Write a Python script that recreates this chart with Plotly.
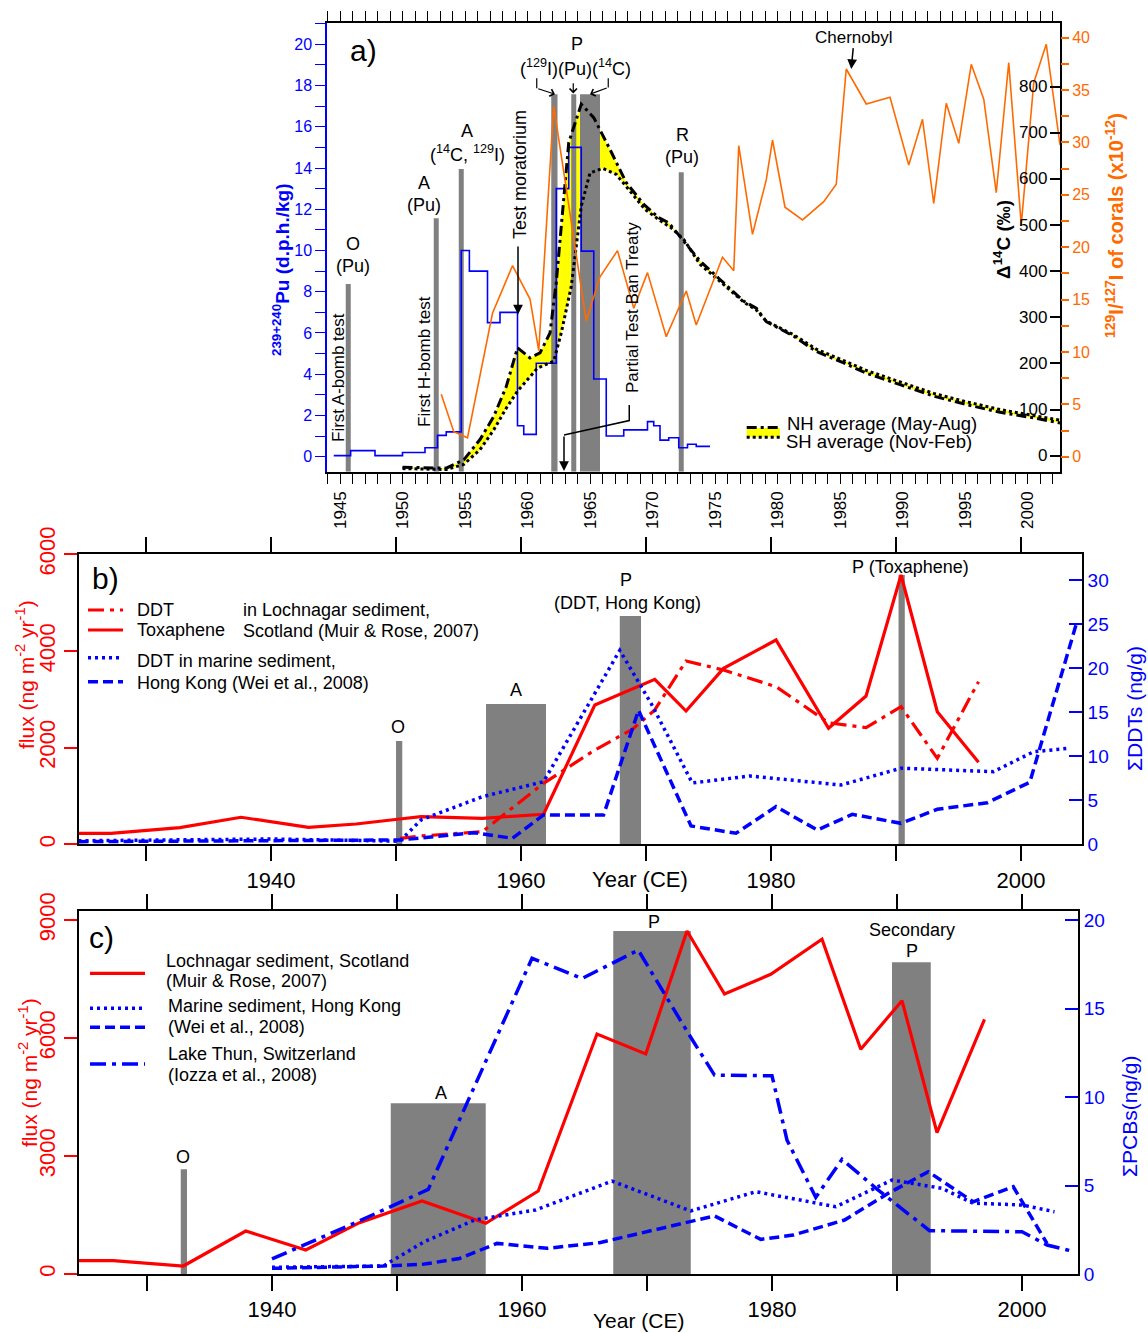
import plotly.graph_objects as go

W, H = 1148, 1333
FONT = "Liberation Sans, Arial, sans-serif"
RED = "#ff0000"
BLUE = "#0000ff"
ORANGE = "#ff6a00"
GRAY = "#808080"

# ---------------- Panel a data ----------------
pu_year = [1944.5, 1945.85, 1947.8, 1950.0, 1951.8, 1952.8, 1953.5, 1954.7, 1955.35, 1956.8,
           1957.8, 1959.2, 1959.7, 1960.7, 1962.3, 1963.3, 1964.3, 1965.3, 1966.3, 1967.7,
           1969.6, 1970.1, 1970.6, 1971.3, 1972.1, 1972.8, 1973.5, 1974.6]
pu_val = [0.05, 0.29, 0.05, 0.2, 0.43, 1.03, 1.2, 10.0, 9.0, 6.5,
          7.0, 1.5, 1.08, 4.53, 13.0, 15.0, 9.97, 3.77, 1.0, 1.3,
          1.7, 1.5, 0.8, 0.92, 0.43, 0.6, 0.5, 0.5]

i_year = [1953.1, 1954.1, 1955.2, 1957.2, 1958.8, 1960.2, 1960.9, 1962.1, 1964.7, 1965.8,
          1967.2, 1968.5, 1969.6, 1971.1, 1972.7, 1973.5, 1975.6, 1976.5, 1976.9, 1978.0,
          1979.1, 1979.6, 1980.6, 1982.0, 1983.7, 1984.7, 1985.5, 1987.1, 1989.0, 1990.5,
          1991.6, 1992.5, 1993.5, 1994.5, 1995.5, 1996.5, 1997.5, 1998.5, 1999.5, 2000.5,
          2001.5, 2002.6]
i_val = [5.96, 2.39, 1.81, 13.69, 18.23, 15.05, 10.12, 33.48, 12.95, 17.18,
         19.67, 14.17, 17.57, 11.46, 15.82, 12.57, 19.04, 17.76, 29.69, 21.23,
         26.42, 30.23, 23.81, 22.6, 24.34, 26.0, 37.01, 33.67, 34.31, 27.85,
         32.21, 24.19, 33.74, 29.92, 37.46, 34.12, 25.2, 37.61, 22.12, 35.7,
         39.37, 29.76]

nh_year = [1950.0, 1953.5, 1954.9, 1956.2, 1957.3, 1958.3, 1959.2, 1960.2, 1961.0, 1961.8,
           1962.3, 1963.3, 1964.3, 1965.3, 1966.6, 1967.9, 1969.3, 1970.5, 1971.3, 1972.2,
           1973.8, 1975.4, 1977.3, 1978.3, 1979.1, 1981.3, 1983.1, 1985.3, 1987.1, 1989.8,
           1992.5, 1995.1, 1997.8, 2000.5, 2002.6]
nh_val = [-25, -27, -9, 35, 85, 150, 234, 212, 223, 266,
          375, 679, 762, 733, 664, 592, 545, 516, 505, 476,
          422, 382, 335, 320, 291, 259, 226, 201, 179, 154,
          129, 111, 94, 82, 71]

sh_year = [1950.0, 1953.5, 1954.9, 1956.2, 1957.3, 1958.3, 1959.2, 1960.0, 1960.8, 1962.1,
           1962.7, 1963.5, 1964.3, 1965.0, 1966.0, 1967.1, 1968.1, 1969.4, 1970.7, 1971.5,
           1972.5, 1973.8, 1975.4, 1977.3, 1978.3, 1979.1, 1981.3, 1983.1, 1985.3, 1987.1,
           1989.8, 1992.5, 1995.1, 1997.8, 2000.5, 2002.6]
sh_val = [-28, -30, -19, 13, 56, 103, 140, 165, 190, 205,
          266, 367, 541, 613, 623, 610, 577, 534, 508, 494,
          469, 415, 378, 333, 316, 292, 262, 231, 206, 185,
          160, 135, 117, 100, 87, 77]

c14_ticks = [0, 100, 200, 300, 400, 500, 600, 700, 800]

a_bar_start = [1945.46, 1952.5, 1954.5, 1961.9, 1963.5, 1964.2, 1972.1]
a_bar_end = [1945.86, 1952.9, 1954.9, 1962.4, 1963.9, 1965.8, 1972.5]
a_bar_top = [8.38, 11.56, 13.95, 17.58, 17.58, 17.58, 13.79]

# ---------------- Panel b data ----------------
tox_year = [1924.6, 1927.2, 1932.7, 1937.6, 1943.0, 1946.8, 1950.3, 1952.0, 1956.9, 1961.8,
            1965.9, 1970.7, 1973.2, 1976.2, 1980.4, 1984.6, 1987.6, 1990.4, 1993.3, 1996.6]
tox_flux = [227, 227, 344, 559, 352, 420, 523, 571, 538, 621,
            2880, 3414, 2758, 3641, 4227, 2400, 3068, 5572, 2744, 1697]

ddt_year = [1950.3, 1952.0, 1956.9, 1961.8, 1965.9, 1968.9, 1970.7, 1973.2, 1976.2, 1980.4,
            1984.6, 1987.6, 1990.4, 1993.3, 1996.6]
ddt_flux = [124, 172, 261, 1262, 1950, 2379, 2779, 3793, 3606, 3261,
            2516, 2413, 2847, 1779, 3364]

hk_dot_year = [1924.6, 1930.0, 1940.0, 1950.3, 1952.0, 1956.9, 1961.8, 1967.9, 1970.4, 1973.7,
               1978.3, 1985.6, 1990.4, 1997.8, 2001.0, 2003.9]
hk_dot_ddt = [0.4, 0.45, 0.6, 0.35, 2.76, 5.4, 7.1, 22.0, 16.0, 6.96,
              7.75, 6.73, 8.63, 8.24, 10.5, 10.9]

hk_dash_year = [1924.6, 1940.0, 1950.3, 1956.3, 1959.3, 1961.8, 1966.6, 1969.4, 1973.6, 1977.2,
                1980.4, 1983.7, 1986.5, 1990.4, 1993.3, 1997.3, 2000.7, 2004.4]
hk_dash_ddt = [0.3, 0.4, 0.49, 1.32, 0.68, 3.33, 3.33, 15.2, 2.08, 1.25,
               4.27, 1.62, 3.4, 2.38, 3.97, 4.72, 7.04, 24.9]

b_bar_start = [1950.0, 1957.2, 1967.9, 1990.2]
b_bar_end = [1950.5, 1962.0, 1969.6, 1990.7]
b_bar_top = [2137, 2903, 4724, 5572]

# ---------------- Panel c data ----------------
loch_year = [1924.5, 1927.3, 1932.9, 1937.9, 1942.7, 1947.0, 1952.0, 1957.1, 1961.3, 1966.0,
             1969.9, 1973.2, 1976.2, 1979.9, 1984.0, 1987.1, 1990.4, 1993.2, 1997.0]
loch_flux = [339, 339, 203, 1093, 610, 1305, 1856, 1289, 2110, 6102,
             5594, 8721, 7119, 7620, 8510, 5713, 6949, 3593, 6476]

pcb_dot_year = [1940.0, 1948.9, 1952.2, 1956.2, 1961.1, 1967.2, 1973.5, 1978.7, 1985.1, 1989.6,
                1993.6, 1996.1, 2000.0, 2002.6]
pcb_dot = [0.38, 0.45, 1.83, 3.05, 3.62, 5.25, 3.56, 4.65, 3.8, 5.31,
           4.84, 4.0, 3.9, 3.52]

pcb_dash_year = [1940.0, 1948.9, 1952.2, 1955.0, 1958.0, 1962.0, 1966.2, 1975.4, 1979.1, 1981.7,
                 1985.8, 1989.3, 1992.5, 1996.1, 1999.3, 2002.0]
pcb_dash = [0.32, 0.45, 0.56, 0.88, 1.73, 1.45, 1.77, 3.28, 1.96, 2.2,
            3.05, 4.56, 5.78, 4.08, 4.93, 1.73]

thun_year = [1940.0, 1947.0, 1952.5, 1960.8, 1964.8, 1969.3, 1973.3, 1975.4, 1980.0, 1981.2,
             1983.5, 1985.6, 1988.4, 1992.6, 2000.0, 2002.0, 2004.2]
thun_pcb = [0.85, 3.0, 4.78, 17.84, 16.7, 18.3, 13.6, 11.24, 11.2, 7.57,
            4.33, 6.48, 4.8, 2.45, 2.39, 1.64, 1.26]

c_bar_start = [1932.7, 1949.5, 1967.3, 1989.6]
c_bar_end = [1933.2, 1957.1, 1973.5, 1992.7]
c_bar_top = [2662, 4340, 8721, 7925]

# ---------------- layout geometry ----------------
def PX(x):
    return x / W

def PY(y):
    return 1 - y / H

PU_RANGE = [-0.73, 21.02]
C14_RANGE = [-34.7, 937.5]
I_RANGE = [-1.43, 41.37]

fig = go.Figure()

def bars(starts, ends, tops, base, xa, ya):
    fig.add_trace(go.Bar(
        x=[(s + e) / 2 for s, e in zip(starts, ends)],
        width=[e - s for s, e in zip(starts, ends)],
        base=[base] * len(starts),
        y=[t - base for t in tops],
        marker=dict(color=GRAY, line=dict(width=0)),
        xaxis=xa, yaxis=ya, showlegend=False, hoverinfo="skip"))

def line(x, y, xa, ya, color, width, dash="solid", shape="linear"):
    fig.add_trace(go.Scatter(x=x, y=y, mode="lines",
                             line=dict(color=color, width=width, dash=dash, shape=shape),
                             xaxis=xa, yaxis=ya, showlegend=False, hoverinfo="skip"))

# Panel a traces (layer order: fill < bars/Pu < black lines < orange)
fig.add_trace(go.Scatter(x=sh_year, y=sh_val, mode="lines", line=dict(width=0, color="rgba(0,0,0,0)"),
                         xaxis="x", yaxis="y", showlegend=False, hoverinfo="skip"))
fig.add_trace(go.Scatter(x=nh_year, y=nh_val, mode="lines", line=dict(width=0, color="rgba(0,0,0,0)"),
                         fill="tonexty", fillcolor="#ffff00",
                         xaxis="x", yaxis="y", showlegend=False, hoverinfo="skip"))
bars(a_bar_start, a_bar_end, a_bar_top, PU_RANGE[0], "x", "y2")
line(pu_year, pu_val, "x", "y2", BLUE, 1.6, shape="hv")
line(nh_year, nh_val, "x", "y3", "black", 3, dash="10px,4px,3px,4px")
line(sh_year, sh_val, "x", "y3", "black", 3, dash="3px,3px")
line(i_year, i_val, "x", "y4", ORANGE, 1.6)

# Panel b traces
bars(b_bar_start, b_bar_end, b_bar_top, 0, "x2", "y5")
line(tox_year, tox_flux, "x2", "y5", RED, 3.2)
line(ddt_year, ddt_flux, "x2", "y5", RED, 3.2, dash="16px,6px,4px,6px")
line(hk_dot_year, hk_dot_ddt, "x2", "y6", BLUE, 3.5, dash="3px,4px")
line(hk_dash_year, hk_dash_ddt, "x2", "y6", BLUE, 3.5, dash="10px,5px")

# Panel c traces
bars(c_bar_start, c_bar_end, c_bar_top, 0, "x3", "y7")
line(loch_year, loch_flux, "x3", "y7", RED, 3.2)
line(pcb_dot_year, pcb_dot, "x3", "y8", BLUE, 3.5, dash="3px,4px")
line(pcb_dash_year, pcb_dash, "x3", "y8", BLUE, 3.5, dash="10px,5px")
line(thun_year, thun_pcb, "x3", "y8", BLUE, 3.5, dash="16px,6px,4px,6px")

# ---------------- axes ----------------
common = dict(showgrid=False, zeroline=False, automargin=False)

xa = dict(common, domain=[PX(327), PX(1060)], range=[1943.96, 2002.6], anchor="y",
          tickmode="linear", tick0=1945, dtick=5, tickangle=-90,
          ticks="outside", ticklen=11, tickwidth=1, tickcolor="black",
          minor=dict(tick0=1944, dtick=1, ticks="outside", ticklen=11, tickwidth=1, tickcolor="black"),
          showline=True, linecolor="black", linewidth=1.5, mirror="ticks",
          tickfont=dict(size=17, color="black", family=FONT))
ya = dict(common, domain=[PY(471.7), PY(23.3)], range=C14_RANGE, anchor="x", side="right",
          tickmode="array", tickvals=c14_ticks, showticklabels=False,
          ticks="inside", ticklen=10, tickwidth=1.5, tickcolor="black",
          showline=True, linecolor="black", linewidth=1.5)
ya2 = dict(common, range=PU_RANGE, anchor="x", overlaying="y", side="left",
           tickmode="array", tickvals=list(range(0, 21, 2)),
           ticks="outside", ticklen=10, tickwidth=1, tickcolor=BLUE,
           minor=dict(dtick=1, ticks="outside", ticklen=10, tickwidth=1, tickcolor=BLUE),
           showline=True, linecolor=BLUE, linewidth=1.5,
           tickfont=dict(size=16, color=BLUE, family=FONT))
ya3 = dict(common, range=C14_RANGE, anchor="x", overlaying="y", visible=False)
ya4 = dict(common, range=I_RANGE, anchor="x", overlaying="y", side="right",
           tickmode="array", tickvals=list(range(0, 41, 5)),
           ticks="outside", ticklen=8, tickwidth=1.5, tickcolor=ORANGE,
           minor=dict(tick0=2.5, dtick=5, ticks="outside", ticklen=8, tickwidth=1.5, tickcolor=ORANGE),
           showline=False, tickfont=dict(size=16, color=ORANGE, family=FONT))

def decade_axis(dom, rng, anchor):
    vals = list(range(1930, 2001, 10))
    return dict(common, domain=dom, range=rng, anchor=anchor,
                tickmode="array", tickvals=vals,
                ticktext=[str(v) if v % 20 == 0 else "" for v in vals],
                ticks="outside", ticklen=15, tickwidth=1.5, tickcolor="black",
                showline=True, linecolor="black", linewidth=2, mirror="ticks",
                tickfont=dict(size=22, color="black", family=FONT))

xa2 = decade_axis([PX(78.5), PX(1081.8)], [1924.6, 2004.86], "y5")
xa3 = decade_axis([PX(78.5), PX(1078)], [1924.52, 2004.48], "y7")

def flux_axis(dom, rng, vals, anchor):
    return dict(common, domain=dom, range=rng, anchor=anchor, side="left",
                tickmode="array", tickvals=vals, tickangle=-90,
                ticks="outside", ticklen=13, tickwidth=1.5, tickcolor=RED,
                showline=True, linecolor="black", linewidth=2,
                tickfont=dict(size=22, color=RED, family=FONT))

def conc_axis(rng, vals, anchor, over):
    return dict(common, range=rng, anchor=anchor, overlaying=over, side="right",
                tickmode="array", tickvals=vals,
                ticks="inside", ticklen=13, tickwidth=2, tickcolor=BLUE,
                showline=True, linecolor="black", linewidth=2,
                tickfont=dict(size=19, color=BLUE, family=FONT))

ya5 = flux_axis([PY(844.3), PY(554.3)], [0, 6000], [0, 2000, 4000, 6000], "x2")
ya6 = conc_axis([0, 32.9], list(range(0, 31, 5)), "x2", "y5")
ya7 = flux_axis([PY(1274), PY(910.7)], [0, 9237], [0, 3000, 6000, 9000], "x3")
ya8 = conc_axis([0, 20.53], list(range(0, 21, 5)), "x3", "y7")

# ---------------- annotations & shapes ----------------
ann = []
shapes = []

def txt(x, y, s, size=18, color="black", angle=0, xanchor="center", yanchor="middle"):
    ann.append(dict(x=PX(x), y=PY(y), xref="paper", yref="paper", text=s, showarrow=False,
                    textangle=angle, xanchor=xanchor, yanchor=yanchor,
                    font=dict(size=size, color=color, family=FONT)))

def arrow(x, y, ax, ay, head=2, size=1.3, width=1.5, yref="y2"):
    ann.append(dict(x=x, y=y, ax=ax, ay=ay, xref="x", yref=yref, axref="x", ayref=yref,
                    text="", showarrow=True, arrowhead=head, arrowsize=size,
                    arrowwidth=width, arrowcolor="black", standoff=0))

def seg(pts, xref="x", yref="y2", width=1.5):
    p = "M " + " L ".join(f"{a},{b}" for a, b in pts)
    shapes.append(dict(type="path", path=p, xref=xref, yref=yref,
                       line=dict(color="black", width=width)))

def legline(x0, x1, y, color, width, dash):
    shapes.append(dict(type="line", xref="paper", yref="paper", x0=PX(x0), x1=PX(x1),
                       y0=PY(y), y1=PY(y), line=dict(color=color, width=width, dash=dash)))

# Δ14C tick labels (drawn inside the plot, left of the right axis)
for v in c14_ticks:
    ann.append(dict(x=PX(1049), y=v, xref="paper", yref="y", text=str(v), showarrow=False,
                    xanchor="right", yanchor="middle",
                    font=dict(size=17, color="black", family=FONT)))

# panel a labels
txt(363, 50, "a)", size=30)
txt(353, 244, "O", 18); txt(353, 266, "(Pu)", 18)
txt(424, 183, "A", 18); txt(424, 205, "(Pu)", 18)
txt(467, 131, "A", 18); txt(467, 153, "(<sup>14</sup>C, <sup>129</sup>I)", 18)
txt(577, 44, "P", 18); txt(575, 67, "(<sup>129</sup>I)(Pu)(<sup>14</sup>C)", 18)
txt(682, 135, "R", 18); txt(682, 157, "(Pu)", 18)
txt(520, 175, "Test moratorium", 18, angle=-90)
txt(338, 378, "First A-bomb test", 17, angle=-90)
txt(424, 362, "First H-bomb test", 17, angle=-90)
txt(632, 308, "Partial Test Ban Treaty", 17, angle=-90)

# arrows in panel a (data coordinates on the Pu axis)
arrow(1959.24, 6.9, 1959.24, 10.27)
ann.append(dict(x=1985.9, y=18.8, xref="x", yref="y2", ax=3, ay=-32, text="Chernobyl",
                showarrow=True, arrowhead=2, arrowsize=1.3, arrowwidth=1.5, arrowcolor="black",
                font=dict(size=17, color="black", family=FONT)))
seg([(1960.74, 18.35), (1960.74, 17.87)], width=1.2)
arrow(1962.2, 17.58, 1960.74, 17.87, head=4, size=1.2, width=1.2)
arrow(1963.66, 17.62, 1963.66, 18.19, head=4, size=1.2, width=1.2)
seg([(1966.46, 18.35), (1966.46, 17.91)], width=1.2)
arrow(1965.0, 17.58, 1966.46, 17.91, head=4, size=1.2, width=1.2)
seg([(1968.14, 2.51), (1968.14, 1.75), (1962.92, 1.05)], width=1.5)
arrow(1962.92, -0.7, 1962.92, 1.05)

# panel a legend
shapes.append(dict(type="rect", xref="paper", yref="paper", x0=PX(746.7), x1=PX(780),
                   y0=PY(437), y1=PY(428), fillcolor="#ffff00", line=dict(width=0)))
legline(746.7, 780, 427.5, "black", 3, "10px,4px,3px,4px")
legline(746.7, 780, 437.3, "black", 3, "3px,3px")
txt(785, 424, "NH average (May-Aug)", 18.5, xanchor="left")
txt(784, 442, "SH average (Nov-Feb)", 18.5, xanchor="left")

# panel a axis titles
txt(281, 270, "<b><sup>239+240</sup>Pu (d.p.h./kg)</b>", 19, BLUE, angle=-90)
txt(1002, 240, "<b>Δ<sup>14</sup>C (‰)</b>", 19, "black", angle=-90)
txt(1114, 226, "<b><sup>129</sup>I/<sup>127</sup>I of corals (x10<sup>-12</sup>)</b>", 20, ORANGE, angle=-90)

# panel b labels
txt(105, 578, "b)", size=30)
txt(398, 727, "O", 18)
txt(516, 690, "A", 18)
txt(626, 580, "P", 18)
txt(627, 603, "(DDT, Hong Kong)", 18)
txt(910, 567, "P (Toxaphene)", 18)
txt(640, 879, "Year (CE)", 22)
txt(25, 675, "flux (ng m<sup>-2</sup> yr<sup>-1</sup>)", 21, RED, angle=-90)
txt(1134, 709, "ΣDDTs (ng/g)", 21, BLUE, angle=-90)
legline(88, 123, 610, RED, 3.2, "16px,6px,4px,6px")
legline(88, 123, 630, RED, 3.2, "solid")
legline(88, 123, 657.7, BLUE, 3.5, "3px,4px")
legline(88, 123, 681.7, BLUE, 3.5, "10px,5px")
txt(134.7, 610, "DDT", 18, xanchor="left")
txt(134.7, 630, "Toxaphene", 18, xanchor="left")
txt(241, 610, "in Lochnagar sediment,", 18, xanchor="left")
txt(241, 631, "Scotland (Muir &amp; Rose, 2007)", 18, xanchor="left")
txt(134.7, 661, "DDT in marine sediment,", 18, xanchor="left")
txt(134.7, 683, "Hong Kong (Wei et al., 2008)", 18, xanchor="left")

# panel c labels
txt(101, 937, "c)", size=30)
txt(183, 1157, "O", 18)
txt(441, 1093, "A", 18)
txt(654, 922, "P", 18)
txt(912, 930, "Secondary", 18)
txt(912, 951, "P", 18)
txt(638, 1320, "Year (CE)", 21)
txt(28, 1073, "flux (ng m<sup>-2</sup> yr<sup>-1</sup>)", 21, RED, angle=-90)
txt(1129, 1116, "ΣPCBs(ng/g)", 21, BLUE, angle=-90)
legline(90, 145, 973.3, RED, 3.2, "solid")
legline(90, 145, 1008.3, BLUE, 3.5, "3px,4px")
legline(90, 145, 1027.3, BLUE, 3.5, "10px,5px")
legline(90, 145, 1064, BLUE, 3.5, "16px,6px,4px,6px")
txt(164, 961, "Lochnagar sediment, Scotland", 18, xanchor="left")
txt(164, 981, "(Muir &amp; Rose, 2007)", 18, xanchor="left")
txt(166, 1006, "Marine sediment, Hong Kong", 18, xanchor="left")
txt(166, 1027, "(Wei et al., 2008)", 18, xanchor="left")
txt(166, 1054, "Lake Thun, Switzerland", 18, xanchor="left")
txt(166, 1075, "(Iozza et al., 2008)", 18, xanchor="left")

fig.update_layout(
    template="none",
    width=W, height=H, margin=dict(l=0, r=0, t=0, b=0, pad=0, autoexpand=False),
    paper_bgcolor="white", plot_bgcolor="white",
    showlegend=False, barmode="overlay",
    font=dict(family=FONT, color="black"),
    xaxis=xa, yaxis=ya, yaxis2=ya2, yaxis3=ya3, yaxis4=ya4,
    xaxis2=xa2, yaxis5=ya5, yaxis6=ya6,
    xaxis3=xa3, yaxis7=ya7, yaxis8=ya8,
    annotations=ann, shapes=shapes,
)

fig.write_html("out.html", config={"displayModeBar": False},
               post_script="document.body.style.margin='0';document.body.style.overflow='hidden';")
